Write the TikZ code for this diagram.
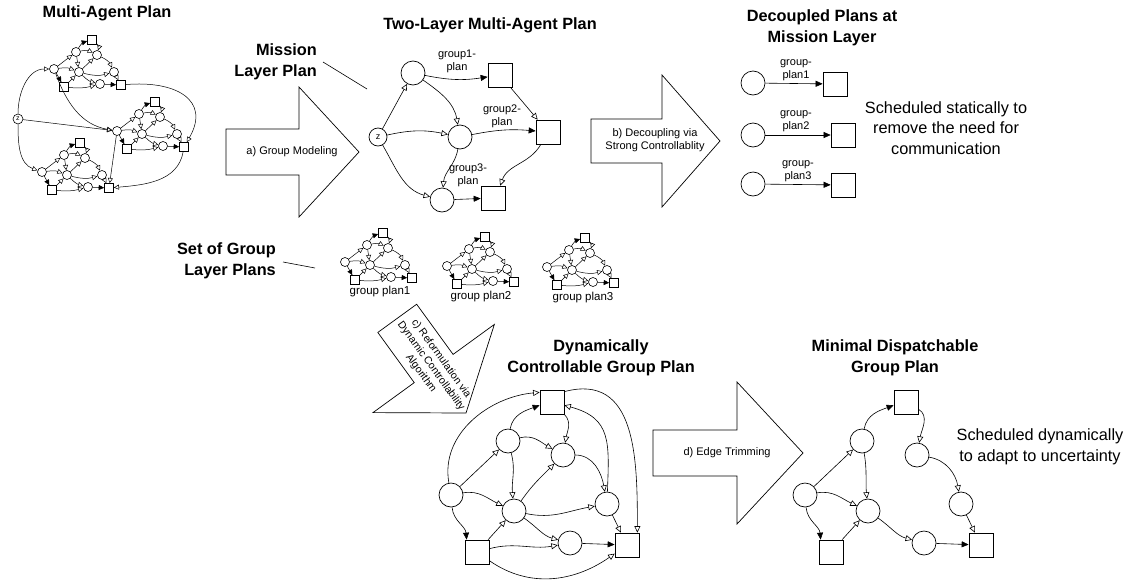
\documentclass[tikz,border=0pt]{standalone}
\usepackage{fontspec}
\setmainfont{Liberation Sans}
\usetikzlibrary{arrows.meta,calc}

\tikzset{
 circ/.style={circle, draw, line width=0.7pt, minimum size=24pt, inner sep=0pt, fill=white},
 sq/.style={rectangle, draw, line width=0.7pt, minimum size=24pt, inner sep=0pt, fill=white},
 mc/.style={circle, draw, line width=0.6pt, minimum size=9pt, inner sep=0pt, fill=white},
 ms/.style={rectangle, draw, line width=0.6pt, minimum size=9pt, inner sep=0pt, fill=white},
 ho/.style={line width=0.6pt, -{Triangle[open,length=6.5pt,width=6pt]}},
 fi/.style={line width=0.6pt, -{Triangle[length=7pt,width=6pt]}},
 mho/.style={line width=0.5pt, -{Triangle[open,length=5.2pt,width=5pt]}},
 mfi/.style={line width=0.5pt, -{Triangle[length=5.5pt,width=5pt]}},
 ttl/.style={font=\fontsize{16.3}{20.5}\selectfont\bfseries, align=center, inner sep=0pt},
 note/.style={font=\fontsize{16.3}{20.5}\selectfont, align=center, inner sep=0pt},
 lbl/.style={font=\fontsize{11}{12.8}\selectfont, align=center, inner sep=0pt},
 blk/.style={draw, line width=0.7pt, fill=white, line join=miter},
 thin/.style={line width=0.6pt},
}

\newcommand{\minigraph}[2]{%
\begin{scope}[shift={#2}]
\node[mc] (#1L) at (0,0) {};
\node[mc] (#1A) at (22,17) {};
\node[ms] (#1T) at (38,29.5) {};
\node[mc] (#1B) at (43,14) {};
\node[mc] (#1C) at (25,-3) {};
\node[mc] (#1D) at (60,-3) {};
\node[mc] (#1E) at (46,-15) {};
\node[ms] (#1SL) at (10,-18) {};
\node[ms] (#1SR) at (67,-16) {};
\draw[mho] (#1L) -- (#1A);
\draw[mfi] (#1A) to[bend left=20] (#1T);
\draw[mfi] (#1L) -- (#1SL);
\draw[mho] (#1L) to[bend left=15] (#1C);
\draw[mho] (#1SL) -- (#1C);
\draw[mho] (#1A) -- (#1C);
\draw[mho] (#1A) to[bend left=20] (#1B);
\draw[mho] (#1C) -- (#1B);
\draw[mho] (#1T) to[bend left=30] (#1B);
\draw[mho] (#1B) to[bend left=20] (#1D);
\draw[mho] (#1C) to[bend right=15] (#1D);
\draw[mho] (#1C) to[bend right=15] (#1E);
\draw[mho] (#1SL) to[bend right=10] (#1E);
\draw[mfi] (#1E) -- (#1SR);
\draw[mho] (#1D) -- (#1SR);
\end{scope}}

\newcommand{\plannodes}[2]{%
\begin{scope}[shift={#2}]
\node[circ] (#1L) at (0,0) {};
\node[circ] (#1A) at (57,54) {};
\node[sq] (#1T) at (101,93) {};
\node[circ] (#1B) at (112,40) {};
\node[circ] (#1C) at (63,-16) {};
\node[circ] (#1D) at (156,-9) {};
\node[circ] (#1E) at (119,-48) {};
\node[sq] (#1SL) at (26,-57) {};
\node[sq] (#1SR) at (176,-50) {};
\end{scope}}

\begin{document}
\begin{tikzpicture}[x=1pt,y=1pt]
\useasboundingbox (0,0) rectangle (1131,-581);

% ---------------- Multi-Agent Plan ----------------
\node[ttl] (tma) at (107,-13) {Multi-Agent Plan};
\node[mc, minimum size=10pt, font=\fontsize{7}{7}\selectfont] (z1) at (18,-119) {z};
\minigraph{ma1}{(54,-69)}
\minigraph{ma2}{(117,-131)}
\minigraph{ma3}{(42,-172)}
\draw[mho] (z1) to[out=90,in=180] (ma1L);
\draw[mho] (z1) -- (ma2L);
\draw[mho] (z1) to[out=-90,in=160] (ma3L);
\draw[mho] (ma1L) to[out=-70,in=170] (ma2L);
\draw[mho] (ma1SR) to[out=5,in=60,looseness=1.5] (ma2SR);
\draw[mho] (ma2SR) to[out=-100,in=5] (ma3SR);
\draw[mho] (ma2L) -- (ma3SR);

% ---------------- arrow a ----------------
\draw[blk] (226,-129) -- (299,-129) -- (299,-87) -- (359,-152) -- (299,-217) -- (299,-175) -- (226,-175) -- cycle;
\node[lbl] (ta) at (292,-152) {a) Group Modeling};

\node[ttl, align=right, anchor=east] (tml) at (317,-62) {Mission\\Layer Plan};
\coordinate (ml1) at (323,-62);
\coordinate (ml2) at (367,-89);
\draw[thin] (ml1) -- (ml2);

% ---------------- Two-layer plan ----------------
\node[ttl] (ttl2) at (490,-25) {Two-Layer Multi-Agent Plan};
\node[circ, minimum size=18pt, font=\fontsize{9}{9}\selectfont] (z2) at (378,-137) {z};
\node[circ] (g1c) at (413,-73) {};
\node[sq] (g1s) at (500,-75) {};
\node[circ] (g2c) at (460,-137) {};
\node[sq] (g2s) at (548,-132) {};
\node[circ] (g3c) at (442,-200) {};
\node[sq] (g3s) at (493,-198) {};
\draw[ho] (z2) -- (g1c);
\draw[ho] (z2) to[bend left=12] (g2c);
\draw[ho] (z2) to[out=-60,in=165] (g3c);
\draw[fi] (g1c) to[bend right=10] (g1s);
\draw[ho] (g1c) to[out=-35,in=100] (g2c);
\draw[ho] (g1s) -- (g2s.130);
\draw[fi] (g2c) to[bend left=8] (g2s);
\draw[ho] (g2c) to[out=-100,in=85] (g3c);
\draw[ho] (g2s) to[out=-120,in=70] (g3s.60);
\draw[fi] (g3c) -- (g3s);
\node[lbl] (lg1) at (457,-61) {group1-\\plan};
\node[lbl] (lg2) at (502,-116) {group2-\\plan};
\node[lbl] (lg3) at (468,-175) {group3-\\plan};

% ---------------- arrow b ----------------
\draw[blk] (591,-119) -- (662,-119) -- (662,-75) -- (720,-141) -- (662,-207) -- (662,-163) -- (591,-163) -- cycle;
\node[lbl] (tb) at (655,-140) {b) Decoupling via\\Strong Controllablity};

% ---------------- Decoupled ----------------
\node[ttl] (tdec) at (822,-28) {Decoupled Plans at\\Mission Layer};
\node[circ] (c1) at (753,-83) {};
\node[sq] (s1) at (835,-84) {};
\node[circ] (c2) at (753,-135) {};
\node[sq] (s2) at (843,-135) {};
\node[circ] (c3) at (753,-184) {};
\node[sq] (s3) at (843,-185) {};
\draw[fi] (c1) -- (s1);
\draw[fi] (c2) -- (s2);
\draw[fi] (c3) -- (s3);
\node[lbl] (ld1) at (796,-70) {group-\\plan1};
\node[lbl] (ld2) at (796,-121) {group-\\plan2};
\node[lbl] (ld3) at (798,-171) {group-\\plan3};
\node[note] (nst) at (946,-128) {Scheduled statically to\\remove the need for\\communication};

% ---------------- Group layer plans ----------------
\node[ttl, align=right, anchor=east] (tgl) at (276,-261) {Set of Group\\Layer Plans};
\coordinate (gl1) at (283,-262);
\coordinate (gl2) at (315,-268);
\draw[thin] (gl1) -- (gl2);
\minigraph{gp1}{(345,-262)}
\minigraph{gp2}{(447,-266)}
\minigraph{gp3}{(547,-267)}
\node[lbl, font=\fontsize{11.5}{13}\selectfont] (lgp1) at (380,-292) {group plan1};
\node[lbl, font=\fontsize{11.5}{13}\selectfont] (lgp2) at (481,-297) {group plan2};
\node[lbl, font=\fontsize{11.5}{13}\selectfont] (lgp3) at (583,-298) {group plan3};

% ---------------- arrow c ----------------
\begin{scope}[shift={(466,-413)}, rotate=-54]
\draw[blk] (0,0) -- (-55,75) -- (-55,24) -- (-117,24) -- (-117,-24) -- (-55,-24) -- (-55,-75) -- cycle;
\end{scope}
\node[lbl, font=\fontsize{10.5}{12.5}\selectfont, rotate=-54] (tc) at (431,-366) {c) Reformulation via\\Dynamic Controllability\\Algorithm};

% ---------------- DC group plan ----------------
\node[ttl] (tdc) at (601,-358) {Dynamically\\Controllable Group Plan};
\plannodes{d}{(451,-495)}
\draw[ho] (dL) to[out=100,in=185] (dT.142);
\draw[fi] (dA) to[out=80,in=200] (dT.195);
\draw[ho] (dL) -- (dA);
\draw[ho] (dL) to[out=10,in=155] (dC);
\draw[fi] (dL) to[out=-85,in=95] (dSL.130);
\draw[ho] (dSL) -- (dC);
\draw[ho] (dSL) to[out=15,in=190] (dE);
\draw[ho] (dSL) to[out=-35,in=-145] (dSR);
\draw[ho] (dA) to[out=15,in=150] (dB);
\draw[ho] (dA) to[out=-75,in=95] (dC);
\draw[ho] (dC) to[out=55,in=225] (dB);
\draw[ho] (dT) to[out=-45,in=80] (dB);
\draw[ho] (dB) to[out=0,in=100] (dD);
\draw[ho] (dC) to[out=-12,in=190] (dD);
\draw[ho] (dC) to[out=-35,in=165] (dE);
\draw[fi] (dE) -- (dSR);
\draw[ho] (dD) -- (dSR);
\draw[ho] (dD) to[out=88,in=-15,looseness=1.3] (dT.-15);
\draw[ho] (dT.40) to[out=15,in=90,looseness=1.2] (dSR.50);

% ---------------- arrow d ----------------
\draw[blk] (653,-430) -- (737,-430) -- (737,-382) -- (803,-453) -- (737,-524) -- (737,-476) -- (653,-476) -- cycle;
\node[lbl] (td) at (727,-453) {d) Edge Trimming};

% ---------------- Minimal dispatchable ----------------
\node[ttl] (tmd) at (895,-358) {Minimal Dispatchable\\Group Plan};
\plannodes{m}{(805,-495)}
\draw[fi] (mA) to[out=80,in=200] (mT.195);
\draw[ho] (mT) to[out=-30,in=80] (mB);
\draw[ho] (mB) to[out=-10,in=100] (mD);
\draw[ho] (mD) -- (mSR);
\draw[ho] (mL) -- (mA);
\draw[ho] (mL) to[out=10,in=155] (mC);
\draw[fi] (mL) to[out=-85,in=95] (mSL.130);
\draw[ho] (mSL) -- (mC);
\draw[ho] (mA) to[out=-80,in=95] (mC);
\draw[ho] (mC) to[out=-35,in=165] (mE);
\draw[fi] (mE) -- (mSR);
\node[note] (ndy) at (1040,-447) {Scheduled dynamically\\to adapt to uncertainty};

\end{tikzpicture}
\end{document}
